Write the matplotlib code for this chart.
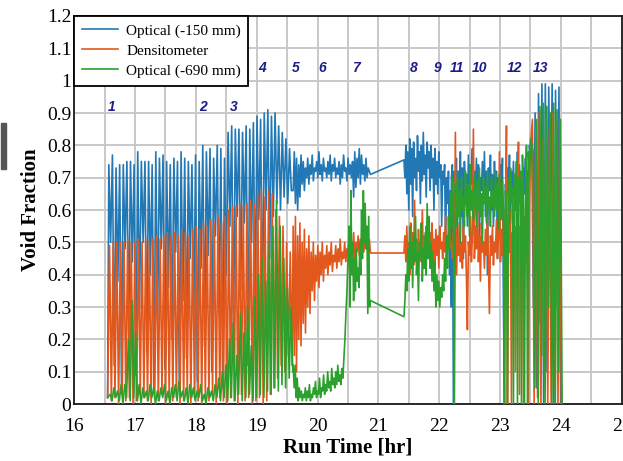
import numpy as np
import matplotlib
matplotlib.use("Agg")
import matplotlib.pyplot as plt
from matplotlib.patches import Rectangle

# ---------------- data ----------------
series_names = ["Optical (-150 mm)", "Densitometer", "Optical (-690 mm)"]

# periodic region 16.57 - 19.6 hr: one value per cycle
cyc_start, cyc_period = 16.57, 0.0594
blue_peaks = [0.74, 0.77, 0.73, 0.74, 0.74, 0.75, 0.75, 0.74, 0.78, 0.75,
              0.75, 0.75, 0.74, 0.78, 0.76, 0.77, 0.75, 0.74, 0.76, 0.75,
              0.78, 0.76, 0.75, 0.74, 0.77, 0.75,
              0.80, 0.78, 0.79, 0.76, 0.80, 0.79, 0.76,
              0.84, 0.86, 0.85, 0.85, 0.84, 0.86, 0.85, 0.87,
              0.89, 0.88, 0.90, 0.91, 0.89, 0.90,
              0.86, 0.84, 0.82, 0.79]
blue_troughs = [0.50, 0.12, 0.38, 0.06, 0.48, 0.22, 0.44, 0.09, 0.30, 0.50,
                0.16, 0.40, 0.05, 0.26, 0.48, 0.11, 0.36, 0.20, 0.47, 0.06,
                0.32, 0.14, 0.45, 0.24, 0.07, 0.42,
                0.18, 0.46, 0.10, 0.52, 0.28, 0.05, 0.40,
                0.55, 0.20, 0.58, 0.35, 0.56, 0.12, 0.50, 0.30,
                0.57, 0.25, 0.60, 0.45, 0.58, 0.62,
                0.60, 0.64, 0.62, 0.66]
orange_peaks = [0.49, 0.50, 0.50, 0.50, 0.50, 0.51, 0.50, 0.50, 0.51, 0.50,
                0.51, 0.50, 0.51, 0.52, 0.51, 0.52, 0.53, 0.52, 0.53, 0.52,
                0.54, 0.53, 0.52, 0.54, 0.55, 0.54,
                0.56, 0.55, 0.57, 0.56, 0.58, 0.56, 0.58,
                0.60, 0.61, 0.61, 0.62, 0.61, 0.62, 0.63, 0.62,
                0.65, 0.66, 0.64, 0.66, 0.65, 0.60,
                0.58, 0.55, 0.50, 0.47]
orange_troughs = [0.01, 0.02, 0.00, 0.03, 0.01, 0.02, 0.00, 0.01, 0.03, 0.02,
                  0.01, 0.00, 0.02, 0.01, 0.03, 0.00, 0.02, 0.01, 0.02, 0.00,
                  0.01, 0.03, 0.00, 0.02, 0.01, 0.00,
                  0.02, 0.01, 0.03, 0.00, 0.02, 0.01, 0.00,
                  0.02, 0.01, 0.00, 0.03, 0.01, 0.02, 0.00, 0.01,
                  0.02, 0.00, 0.01, 0.03, 0.05, 0.08,
                  0.12, 0.10, 0.15, 0.12]
green_peaks = [0.03, 0.05, 0.04, 0.06, 0.06, 0.20, 0.32, 0.22, 0.06, 0.05,
               0.04, 0.06, 0.05, 0.04, 0.05, 0.06, 0.04, 0.05, 0.06, 0.07,
               0.04, 0.05, 0.06, 0.05, 0.04, 0.06,
               0.03, 0.05, 0.04, 0.06, 0.08, 0.10, 0.12,
               0.20, 0.25, 0.15, 0.28, 0.22, 0.30, 0.18, 0.33,
               0.40, 0.45, 0.38, 0.50, 0.55, 0.63,
               0.55, 0.45, 0.36, 0.30]
green_troughs = [0.01, 0.02, 0.01, 0.00, 0.02, 0.01, 0.02, 0.01, 0.00, 0.02,
                 0.01, 0.02, 0.00, 0.01, 0.02, 0.01, 0.00, 0.02, 0.01, 0.02,
                 0.01, 0.00, 0.02, 0.01, 0.02, 0.01,
                 0.00, 0.02, 0.01, 0.02, 0.01, 0.02, 0.01,
                 0.02, 0.01, 0.03, 0.01, 0.02, 0.03, 0.01, 0.02,
                 0.03, 0.02, 0.04, 0.03, 0.05, 0.04,
                 0.06, 0.05, 0.08, 0.10]

# noisy stretches: (start hr, end hr, values)
blue_seg2 = (19.60, 20.87, [0.66, 0.78, 0.62, 0.76, 0.60, 0.74, 0.64, 0.77, 0.68, 0.75, 0.66, 0.73, 0.70, 0.76,
                            0.68, 0.74, 0.71, 0.77, 0.69, 0.73, 0.72, 0.75, 0.70, 0.78, 0.71, 0.74, 0.69, 0.76,
                            0.72, 0.73, 0.70, 0.75, 0.71, 0.77, 0.69, 0.74, 0.72, 0.76, 0.70, 0.73, 0.71, 0.75,
                            0.68, 0.74, 0.70, 0.77, 0.72, 0.73, 0.69, 0.76, 0.71, 0.74, 0.70, 0.75, 0.64, 0.78,
                            0.67, 0.76, 0.70, 0.79, 0.68, 0.77, 0.71, 0.74, 0.69, 0.76, 0.70, 0.73, 0.72, 0.71])
blue_seg3 = (21.42, 22.20, [0.755, 0.70, 0.80, 0.65, 0.78, 0.60, 0.82, 0.68, 0.79, 0.58, 0.81, 0.70, 0.76, 0.66,
                            0.83, 0.72, 0.78, 0.62, 0.80, 0.69, 0.84, 0.71, 0.77, 0.64, 0.81, 0.73, 0.78, 0.66,
                            0.80, 0.70, 0.76, 0.60, 0.79, 0.68, 0.75, 0.65, 0.78, 0.70, 0.74, 0.55, 0.72, 0.68,
                            0.74, 0.48, 0.70, 0.62, 0.72, 0.40, 0.66, 0.30])
blue_seg4 = (22.20, 23.50, [0.70, 0.74, 0.00, 0.72, 0.60, 0.76, 0.50, 0.72, 0.66, 0.78,
                            0.58, 0.73, 0.45, 0.75, 0.64, 0.71, 0.55, 0.77, 0.62, 0.74,
                            0.68, 0.79, 0.57, 0.72, 0.65, 0.76, 0.60, 0.74, 0.52, 0.70,
                            0.66, 0.75, 0.62, 0.78, 0.58, 0.72, 0.40, 0.73, 0.66, 0.77,
                            0.60, 0.71, 0.55, 0.75, 0.63, 0.72, 0.45, 0.70, 0.58, 0.74,
                            0.62, 0.76, 0.30, 0.00, 0.68, 0.60, 0.73, 0.65, 0.77, 0.56,
                            0.72, 0.64, 0.75, 0.60, 0.71, 0.66, 0.78, 0.58, 0.74, 0.62,
                            0.70, 0.48, 0.73, 0.65, 0.76, 0.55, 0.72, 0.68, 0.80, 0.75])
orange_seg2 = (19.60, 20.87, [0.55, 0.15, 0.58, 0.10, 0.52, 0.20, 0.56, 0.18, 0.50, 0.25, 0.54, 0.22, 0.48, 0.30,
                              0.52, 0.28, 0.47, 0.35, 0.50, 0.32, 0.46, 0.38, 0.49, 0.36, 0.47, 0.40, 0.50, 0.38,
                              0.46, 0.42, 0.49, 0.40, 0.47, 0.43, 0.50, 0.41, 0.46, 0.44, 0.49, 0.42, 0.48, 0.44,
                              0.51, 0.43, 0.47, 0.45, 0.50, 0.44, 0.48, 0.46, 0.52, 0.45, 0.49, 0.47, 0.53, 0.44,
                              0.50, 0.47, 0.52, 0.46, 0.51, 0.48, 0.53, 0.47, 0.50, 0.49, 0.54, 0.46, 0.51, 0.467])
orange_seg3 = (21.42, 22.20, [0.467, 0.52, 0.44, 0.55, 0.42, 0.50, 0.40, 0.56, 0.46, 0.53, 0.43, 0.63, 0.45, 0.51,
                              0.41, 0.54, 0.47, 0.50, 0.44, 0.60, 0.46, 0.52, 0.42, 0.55, 0.48, 0.50, 0.45, 0.53,
                              0.43, 0.56, 0.47, 0.51, 0.44, 0.54, 0.46, 0.52, 0.42, 0.55, 0.48, 0.50, 0.45, 0.53,
                              0.47, 0.58, 0.44, 0.52, 0.49, 0.55, 0.50, 0.48])
orange_seg4 = (22.20, 23.50, [0.50, 0.45, 0.55, 0.42, 0.84, 0.40, 0.52, 0.46, 0.56, 0.44,
                              0.50, 0.42, 0.55, 0.47, 0.52, 0.40, 0.23, 0.50, 0.46, 0.58,
                              0.44, 0.52, 0.85, 0.45, 0.55, 0.48, 0.62, 0.44, 0.52, 0.38,
                              0.56, 0.47, 0.50, 0.42, 0.54, 0.46, 0.58, 0.44, 0.28, 0.52,
                              0.46, 0.55, 0.43, 0.50, 0.47, 0.57, 0.45, 0.51, 0.78, 0.44,
                              0.54, 0.46, 0.60, 0.43, 0.52, 0.86, 0.00, 0.50, 0.47, 0.60,
                              0.00, 0.53, 0.40, 0.55, 0.10, 0.62, 0.46, 0.81, 0.03, 0.55,
                              0.47, 0.66, 0.00, 0.58, 0.44, 0.70, 0.52, 0.00, 0.60, 0.80])
green_seg2 = (19.60, 20.50, [0.12, 0.05, 0.12, 0.02, 0.08, 0.01, 0.05, 0.02, 0.04, 0.01, 0.03, 0.02, 0.05, 0.01,
                             0.04, 0.02, 0.06, 0.01, 0.03, 0.02, 0.05, 0.03, 0.07, 0.02, 0.04, 0.03, 0.08, 0.02,
                             0.05, 0.04, 0.09, 0.03, 0.06, 0.04, 0.10, 0.05, 0.07, 0.04, 0.11, 0.06, 0.08, 0.05,
                             0.10, 0.06, 0.12, 0.07, 0.09, 0.06, 0.11, 0.08, 0.14, 0.20, 0.28, 0.35, 0.45])
green_seg3 = (20.52, 20.87, [0.55, 0.30, 0.66, 0.40, 0.50, 0.32, 0.45, 0.35, 0.48, 0.38, 0.42, 0.36, 0.50,
                             0.40, 0.60, 0.45, 0.66, 0.50, 0.62, 0.48, 0.55, 0.28, 0.58, 0.30, 0.32])
green_seg4 = (21.42, 22.20, [0.27, 0.32, 0.40, 0.35, 0.48, 0.38, 0.55, 0.42, 0.50, 0.36, 0.52, 0.44, 0.58, 0.40,
                             0.47, 0.32, 0.50, 0.45, 0.56, 0.38, 0.48, 0.42, 0.53, 0.40, 0.62, 0.45, 0.58, 0.42,
                             0.50, 0.38, 0.47, 0.35, 0.44, 0.30, 0.40, 0.32, 0.38, 0.30, 0.36, 0.33, 0.40, 0.35,
                             0.45, 0.38, 0.52, 0.42, 0.58, 0.48, 0.65, 0.55])
green_seg5 = (22.20, 23.50, [0.62, 0.70, 0.55, 0.00, 0.68, 0.55, 0.72, 0.58, 0.66, 0.50,
                             0.70, 0.60, 0.64, 0.55, 0.72, 0.62, 0.58, 0.68, 0.52, 0.74,
                             0.60, 0.66, 0.57, 0.71, 0.63, 0.55, 0.69, 0.60, 0.73, 0.58,
                             0.65, 0.50, 0.70, 0.62, 0.67, 0.56, 0.72, 0.60, 0.64, 0.55,
                             0.70, 0.61, 0.66, 0.58, 0.72, 0.60, 0.68, 0.54, 0.71, 0.63,
                             0.57, 0.69, 0.60, 0.00, 0.66, 0.58, 0.00, 0.70, 0.56, 0.73,
                             0.62, 0.67, 0.00, 0.71, 0.60, 0.75, 0.00, 0.70, 0.63, 0.72,
                             0.00, 0.77, 0.60, 0.00, 0.65, 0.80, 0.00, 0.78, 0.70, 0.82])

# periodic region at the end, 23.52 - 24.0 hr
end_start, end_period = 23.52, 0.056
blue_end_peaks = [0.82, 0.90, 0.96, 0.99, 0.99, 0.98, 0.99, 0.97, 0.98]
blue_end_troughs = [0.30, 0.05, 0.25, 0.00, 0.10, 0.50, 0.00, 0.30, 0.00]
orange_end_peaks = [0.88, 0.86, 0.90, 0.82, 0.88, 0.85, 0.90, 0.87, 0.88]
orange_end_troughs = [0.00, 0.02, 0.00, 0.10, 0.00, 0.00, 0.05, 0.00, 0.00]
green_end_peaks = [0.78, 0.88, 0.92, 0.93, 0.92, 0.90, 0.93, 0.91, 0.88]
green_end_troughs = [0.05, 0.00, 0.15, 0.00, 0.30, 0.00, 0.00, 0.10, 0.00]

start_time, start_value = 16.55, 0.02

# event labels
event_labels = ["1", "2", "3", "4", "5", "6", "7", "8", "9", "11", "10", "12", "13"]
event_x = [16.61, 18.12, 18.62, 19.09, 19.65, 20.08, 20.63, 21.58, 21.98, 22.30, 22.67, 23.23, 23.67]
event_y = [0.92, 0.92, 0.92, 1.04, 1.04, 1.04, 1.04, 1.04, 1.04, 1.04, 1.04, 1.04, 1.04]

x_ticks = [16, 17, 18, 19, 20, 21, 22, 23, 24, 25]
y_ticks = [0, 0.1, 0.2, 0.3, 0.4, 0.5, 0.6, 0.7, 0.8, 0.9, 1.0, 1.1, 1.2]
y_tick_labels = ["0", "0.1", "0.2", "0.3", "0.4", "0.5", "0.6", "0.7", "0.8", "0.9", "1", "1.1", "1.2"]


# ---------------- build series ----------------
def cycles(t0, period, peaks, troughs, shift):
    t, v = [], []
    for i, (p, q) in enumerate(zip(peaks, troughs)):
        base = t0 + i * period + shift
        t += [base, base + period / 2]
        v += [p, q]
    return t, v


def seg(s):
    t0, t1, vals = s
    return list(np.linspace(t0, t1, len(vals))), list(vals)


def build(peaks, troughs, segs, epeaks, etroughs, shift):
    t, v = [start_time], [start_value]
    a, b = cycles(cyc_start, cyc_period, peaks, troughs, shift)
    t += a; v += b
    for s in segs:
        a, b = seg(s)
        t += a; v += b
    a, b = cycles(end_start, end_period, epeaks, etroughs, shift)
    t += a; v += b
    return np.array(t), np.array(v)


blue_t, blue_v = build(blue_peaks, blue_troughs, [blue_seg2, blue_seg3, blue_seg4],
                       blue_end_peaks, blue_end_troughs, 0.0)
orange_t, orange_v = build(orange_peaks, orange_troughs, [orange_seg2, orange_seg3, orange_seg4],
                           orange_end_peaks, orange_end_troughs, 0.012)
green_t, green_v = build(green_peaks, green_troughs, [green_seg2, green_seg3, green_seg4, green_seg5],
                         green_end_peaks, green_end_troughs, 0.024)

# ---------------- plot ----------------
BLUE, ORANGE, GREEN = "#2278b5", "#e2571c", "#2ca02c"
serif = "Liberation Serif"

fig = plt.figure(figsize=(6.23, 4.61), dpi=100)
ax = fig.add_axes([0.119, 0.1236, 0.879, 0.8417])

ax.plot(blue_t, blue_v, color=BLUE, lw=1.2, label=series_names[0], zorder=3)
ax.plot(orange_t, orange_v, color=ORANGE, lw=1.2, label=series_names[1], zorder=4)
ax.plot(green_t, green_v, color=GREEN, lw=1.2, label=series_names[2], zorder=5)

ax.set_xlim(16, 25)
ax.set_ylim(0, 1.2)
ax.set_xticks(x_ticks)
ax.set_xticks(np.arange(16.5, 25, 1.0), minor=True)
ax.set_yticks(y_ticks)
ax.set_yticklabels(y_tick_labels)
ax.grid(True, which="both", color="#c8c8c8", lw=1.4, zorder=0)
ax.set_axisbelow(True)
ax.tick_params(axis="both", which="both", length=0)
ax.tick_params(axis="x", pad=10, labelsize=14)
ax.tick_params(axis="y", pad=2, labelsize=14)
for lab in ax.get_xticklabels() + ax.get_yticklabels():
    lab.set_fontfamily(serif)
for sp in ax.spines.values():
    sp.set_color("#1a1a1a")
    sp.set_linewidth(1.3)

ax.set_xlabel("Run Time [hr]", fontfamily=serif, fontweight="bold", fontsize=15, labelpad=2)
ax.set_ylabel("Void Fraction", fontfamily=serif, fontweight="bold", fontsize=15, labelpad=4)

for lab, x, y in zip(event_labels, event_x, event_y):
    ax.text(x, y, lab, color="#1c1c8a", fontsize=10, fontweight="bold", fontstyle="italic",
            fontfamily="Liberation Sans", ha="center", va="center", zorder=6)

leg = ax.legend(loc="upper left", bbox_to_anchor=(0, 1), borderaxespad=0,
                prop={"family": serif, "size": 11}, fancybox=False, framealpha=1,
                edgecolor="black", handlelength=2.4, labelspacing=0.42,
                borderpad=0.5, handletextpad=0.5)
leg.get_frame().set_linewidth(1.3)
leg.set_zorder(10)

fig.patches.append(Rectangle((1 / 623, 1 - 169 / 461), 5 / 623, 46 / 461,
                             transform=fig.transFigure, color="#555555"))

fig.savefig("out.png", dpi=100)
